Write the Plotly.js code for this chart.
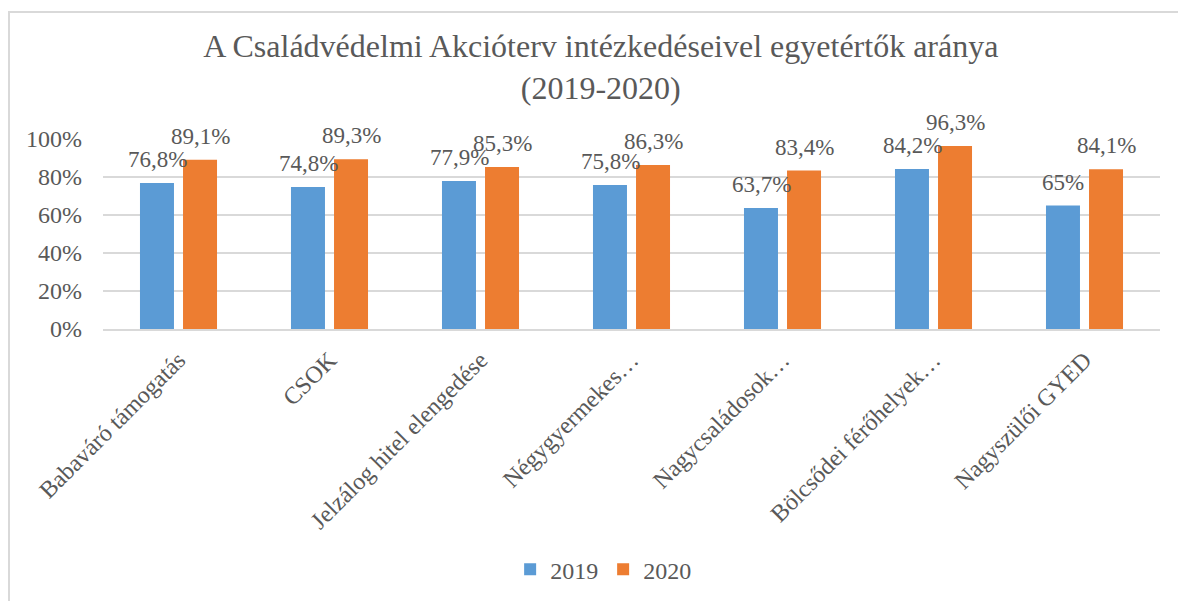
<!DOCTYPE html>
<html>
<head>
<meta charset="utf-8">
<script src="https://cdn.plot.ly/plotly-3.0.1.min.js"></script>
<style>
  html, body { margin: 0; padding: 0; background: #fff; overflow: hidden; }
  #wrap { position: relative; width: 1178px; height: 601px; }
  #chart { position: absolute; left: 0; top: 0; width: 1178px; height: 601px; }
  #frame { position: absolute; left: 8px; top: 11px; width: 1300px; height: 700px;
           border: 2px solid #d9d9d9; pointer-events: none; }
</style>
</head>
<body>
<div id="wrap">
  <div id="chart"></div>
  <div id="frame"></div>
</div>
<script>
const categories = [
  "Babaváró támogatás",
  "CSOK",
  "Jelzálog hitel elengedése",
  "Négygyermekes…",
  "Nagycsaládosok…",
  "Bölcsődei férőhelyek…",
  "Nagyszülői GYED"
];
const values2019 = [76.8, 74.8, 77.9, 75.8, 63.7, 84.2, 65];
const values2020 = [89.1, 89.3, 85.3, 86.3, 83.4, 96.3, 84.1];
const seriesNames = ["2019", "2020"];
const yTickVals = [0, 0.2, 0.4, 0.6, 0.8, 1.0];
const yTickText = ["0%", "20%", "40%", "60%", "80%", "100%"];

const FONT = 'Liberation Serif, Times New Roman, serif';
const GRAY = '#595959';
const fmt = v => String(v).replace('.', ',') + '%';

const traces = [
  { type: 'bar', name: seriesNames[0], x: categories, y: values2019.map(v => v / 100),
    marker: { color: '#5B9BD5' }, hoverinfo: 'skip' },
  { type: 'bar', name: seriesNames[1], x: categories, y: values2020.map(v => v / 100),
    marker: { color: '#ED7D31' }, hoverinfo: 'skip' }
];

const annotations = [];
[values2019, values2020].forEach((vals, s) => {
  vals.forEach((v, i) => {
    annotations.push({
      x: categories[i], y: v / 100, xref: 'x', yref: 'y',
      text: fmt(v), showarrow: false, xanchor: 'center', yanchor: 'bottom',
      xshift: s === 0 ? -21.5 : 21.5, yshift: 9,
      font: { family: FONT, size: 23, color: GRAY }
    });
  });
});

const layout = {
  width: 1178, height: 601,
  paper_bgcolor: 'rgba(0,0,0,0)', plot_bgcolor: 'rgba(0,0,0,0)',
  margin: { l: 103, r: 18, t: 139, b: 272 },
  font: { family: FONT, size: 24, color: GRAY },
  title: {
    text: 'A Családvédelmi Akcióterv intézkedéseivel egyetértők aránya<br>(2019-2020)',
    font: { family: FONT, size: 32, color: GRAY },
    xref: 'container', x: 0.510, xanchor: 'center',
    yref: 'container', y: 0.905, yanchor: 'top'
  },
  barmode: 'group', bargap: 0.43, bargroupgap: 0.21,
  xaxis: {
    type: 'category', tickangle: -45, showgrid: false, showline: true,
    linecolor: '#d9d9d9', linewidth: 1.5, ticks: '', zeroline: false,
    tickfont: { family: FONT, size: 24, color: GRAY }, ticklabelstandoff: 6
  },
  yaxis: {
    range: [0, 1.0], tickvals: yTickVals, ticktext: yTickText,
    showgrid: true, gridcolor: '#d9d9d9', gridwidth: 1.3, zeroline: false,
    showline: false, ticks: '', ticklabelstandoff: 20,
    tickfont: { family: FONT, size: 24, color: GRAY }
  },
  showlegend: true,
  legend: {
    orientation: 'h', xref: 'container', yref: 'container',
    x: 0.512, xanchor: 'center', y: 0.052, yanchor: 'middle',
    font: { family: FONT, size: 24, color: GRAY }, itemwidth: 30
  },
  annotations: annotations
};

Plotly.newPlot('chart', traces, layout, { displayModeBar: false, staticPlot: true });
</script>
</body>
</html>
